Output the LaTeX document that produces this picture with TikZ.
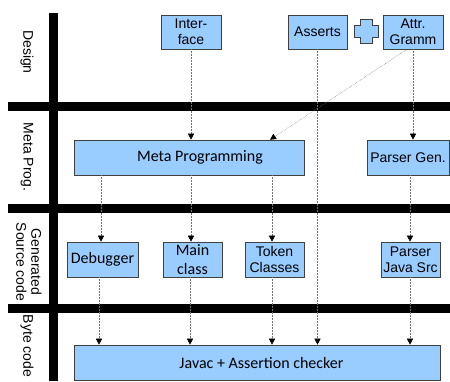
\documentclass[tikz,border=0pt]{standalone}
\usepackage{fontspec}
\setmainfont{Liberation Sans}
\newfontfamily\calib{Carlito}
\usetikzlibrary{arrows.meta}
\definecolor{boxblue}{HTML}{99CCFF}
\begin{document}
\begin{tikzpicture}[x=1pt,y=-1pt,
  box/.style={draw=black!75, fill=boxblue, line width=0.6pt, font=\fontsize{14}{16}\selectfont, align=center, inner sep=0pt},
  cbox/.style={box, font=\calib\fontsize{16}{19}\selectfont},
  conn/.style={draw=black!55, densely dotted, line width=0.5pt, -{Triangle[length=6pt,width=6pt,color=black]}},
  bar/.style={fill=black},
  lane/.style={rotate=-90, font=\fontsize{14}{15}\selectfont, align=center, inner sep=0pt}]
\useasboundingbox (0,0) rectangle (450,381);
% bars
\fill[bar] (49,13) rectangle (58,381);
\fill[bar] (8,102) rectangle (450,111);
\fill[bar] (8,204) rectangle (450,213);
\fill[bar] (8,304) rectangle (450,313);
% lane labels
\node[lane] (ldesign) at (27,52) {Design};
\node[lane] (lmeta) at (27,157) {Meta Prog.};
\node[lane] (lgen) at (29,262) {Generated\\Source code};
\node[lane] (lbyte) at (27,346) {Byte code};
% boxes
\node[box, minimum width=60pt, minimum height=34pt] (iface) at (191,32) {Inter-\\face};
\node[box, minimum width=59pt, minimum height=34pt] (asserts) at (317.5,32) {Asserts};
\node[box, minimum width=60pt, minimum height=34pt] (attr) at (413,32) {Attr.\\Gramm};
\filldraw[draw=black!75, fill=boxblue, line width=0.6pt]
  (360,19) -- (372,19) -- (372,25) -- (378,25) -- (378,37) -- (372,37) -- (372,43)
  -- (360,43) -- (360,37) -- (354,37) -- (354,25) -- (360,25) -- cycle;
\node[cbox, minimum width=230pt, minimum height=35pt] (meta) at (189,157.5) {\hspace*{22pt}Meta Programming};
\node[box, minimum width=82pt, minimum height=35pt] (pgen) at (408,157.5) {Parser Gen.};
\node[cbox, minimum width=71pt, minimum height=35pt] (debug) at (102.5,259.5) {Debugger};
\node[cbox, minimum width=59pt, minimum height=35pt] (mainc) at (192.5,259.5) {Main\\class};
\node[box, minimum width=59pt, minimum height=35pt] (token) at (274.5,259.5) {Token\\Classes};
\node[box, minimum width=59pt, minimum height=35pt] (pjava) at (410.5,259.5) {Parser\\Java Src};
\node[cbox, minimum width=366pt, minimum height=35pt] (javac) at (257,362.5) {\hspace*{9pt}Javac + Assertion checker};
% connectors
\draw[conn] (iface.south) -- (iface.south |- meta.north);
\draw[conn] (asserts.south) -- (asserts.south |- javac.north);
\draw[conn] ([xshift=-6pt]attr.south) -- ([xshift=81pt]meta.north);
\draw[conn] (attr.south) -- (attr.south |- pgen.north);
\draw[conn] ([xshift=-1.5pt]debug.north |- meta.south) -- ([xshift=-1.5pt]debug.north);
\draw[conn] ([xshift=-1.5pt]mainc.north |- meta.south) -- ([xshift=-1.5pt]mainc.north);
\draw[conn] ([xshift=-2.5pt]token.north |- meta.south) -- ([xshift=-2.5pt]token.north);
\draw[conn] ([xshift=-0.5pt]pgen.south -| pjava.north) -- ([xshift=-0.5pt]pjava.north);
\draw[conn] ([xshift=-3.5pt]debug.south) -- ([xshift=-3.5pt]debug.south |- javac.north);
\draw[conn] ([xshift=-2.5pt]mainc.south) -- ([xshift=-2.5pt]mainc.south |- javac.north);
\draw[conn] ([xshift=-2.5pt]token.south) -- ([xshift=-2.5pt]token.south |- javac.north);
\draw[conn] ([xshift=-0.5pt]pjava.south) -- ([xshift=-0.5pt]pjava.south |- javac.north);
\end{tikzpicture}
\end{document}
